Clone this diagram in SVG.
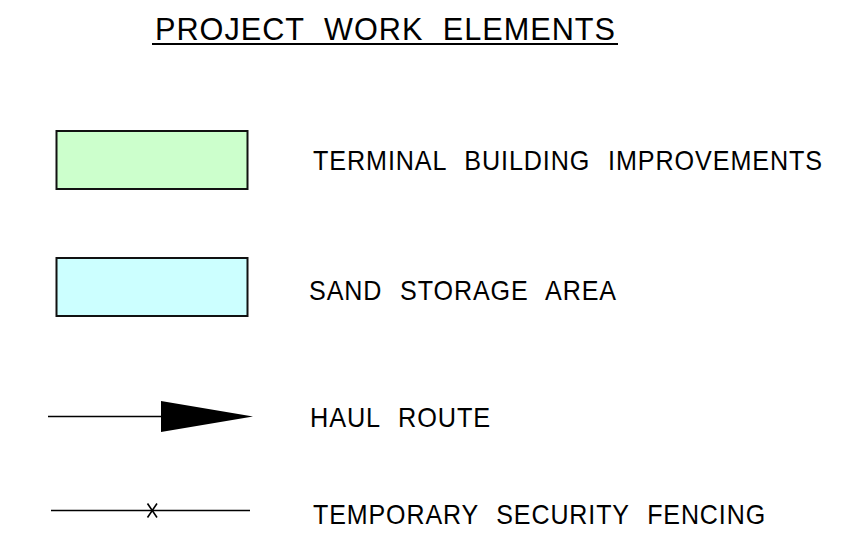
<svg xmlns="http://www.w3.org/2000/svg" width="864" height="555" viewBox="0 0 864 555">
<style>
text{font-family:"Liberation Sans",Arial,sans-serif;font-size:28px;fill:#000;word-spacing:11px;letter-spacing:1px}
.title{font-size:31px;word-spacing:10px}
.box{stroke:#111;stroke-width:2}
.ln{stroke:#000;stroke-width:1.6;fill:none}
</style>
<rect width="864" height="555" fill="#fff"/>
<g id="title">
<text class="title" x="155" y="39.5" textLength="461" lengthAdjust="spacingAndGlyphs">PROJECT WORK ELEMENTS</text>
<line x1="152" y1="44" x2="618" y2="44" stroke="#000" stroke-width="2"/>
</g>
<g id="terminal">
<rect class="box" x="56.5" y="131" width="191" height="58" fill="#CCFFCC"/>
<text transform="translate(313,169.5) scale(0.85,1)" x="0" y="0" textLength="600" lengthAdjust="spacingAndGlyphs">TERMINAL BUILDING IMPROVEMENTS</text>
</g>
<g id="sand">
<rect class="box" x="56.5" y="258" width="191" height="58" fill="#CCFFFF"/>
<text x="309" y="299.5" textLength="308" lengthAdjust="spacingAndGlyphs">SAND STORAGE AREA</text>
</g>
<g id="connectors">
<g id="haul">
<line class="ln" x1="48" y1="416.5" x2="162" y2="416.5"/>
<polygon points="161,401 253,416.5 161,432" fill="#000"/>
</g>
<g id="fence">
<line class="ln" x1="51" y1="510.5" x2="250" y2="510.5"/>
<path class="ln" d="M147.5,503.5 L157,517.5 M157,503.5 L147.5,517.5"/>
</g>
</g>
<g id="labels">
<text x="310" y="426.5" textLength="181" lengthAdjust="spacingAndGlyphs">HAUL ROUTE</text>
<text x="313" y="523.5" textLength="453" lengthAdjust="spacingAndGlyphs">TEMPORARY SECURITY FENCING</text>
</g>
</svg>
